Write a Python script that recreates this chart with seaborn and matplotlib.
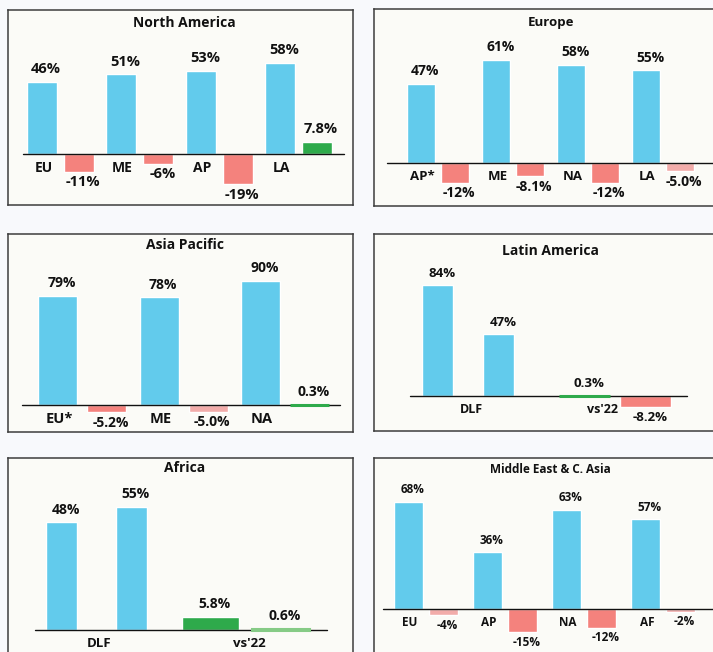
import numpy as np
import pandas as pd
import matplotlib
matplotlib.use("Agg")
import matplotlib.pyplot as plt
import seaborn as sns

# data
na_cats = ["EU", "ME", "AP", "LA"]
na_share = [46, 51, 53, 58]
na_change = [-11, -6, -19, 7.8]
na_sig = [True, True, True, True]

eu_cats = ["AP*", "ME", "NA", "LA"]
eu_share = [47, 61, 58, 55]
eu_change = [-12, -8.1, -12, -5.0]
eu_sig = [True, True, True, False]

ap_cats = ["EU*", "ME", "NA"]
ap_share = [79, 78, 90]
ap_change = [-5.2, -5.0, 0.3]
ap_sig = [True, False, True]

la_groups = ["DLF", "vs'22"]
la_first = [84, 0.3]
la_second = [47, -8.2]
la_sig = [True, True]

af_groups = ["DLF", "vs'22"]
af_first = [48, 5.8]
af_second = [55, 0.6]
af_sig = [True, False]

me_cats = ["EU", "AP", "NA", "AF"]
me_share = [68, 36, 63, 57]
me_change = [-4, -15, -12, -2]
me_sig = [False, True, True, False]

BLUE = "#62CBEC"
RED = "#F4827D"
RED_L = "#F2ACAA"
GREEN = "#2EAA4B"
GREEN_L = "#86CB86"
BG = "#F8F9FC"
PANEL = "#FBFBF7"
INK = "#111111"
W, H = 713, 652

sns.set_theme(style="white")
plt.rcParams["font.family"] = ["Open Sans", "DejaVu Sans"]


def chg_color(v, s):
    if v >= 0:
        return GREEN if s else GREEN_L
    return RED if s else RED_L


def fmt(v):
    return f"{v}%" if isinstance(v, int) else f"{v:.1f}%"


def pair_frame(cats, share, change):
    return pd.DataFrame({
        "cat": cats * 2,
        "series": ["share"] * len(cats) + ["change"] * len(cats),
        "value": share + change,
    })


panels = [
    dict(title="North America", box=(8, 10, 352.7, 205), kind="pair",
         cats=na_cats, a=na_share, b=na_change, sig=na_sig,
         xlim=(-0.662, 3.685), ylim=(-32.2, 91.7), width=0.933, gap=0.19,
         base=(-0.477, 3.575), tdy=12.7, fs=(10, 10.5, 10)),
    dict(title="Europe", box=(374, 9.3, 719, 206), kind="pair",
         cats=eu_cats, a=eu_share, b=eu_change, sig=eu_sig,
         xlim=(-0.853, 3.747), ylim=(-25.7, 91.1), width=0.907, gap=0.176,
         base=(-0.684, 3.8), tdy=13.4, fs=(9.5, 10, 9.5)),
    dict(title="Asia Pacific", box=(8, 234.3, 352.7, 431.7), kind="pair",
         cats=ap_cats, a=ap_share, b=ap_change, sig=ap_sig,
         xlim=(-0.728, 2.664), ylim=(-19.3, 123.6), width=0.965, gap=0.204,
         base=(-0.593, 2.539), tdy=10.7, fs=(10, 10, 10.5)),
    dict(title="Latin America", box=(374, 234.3, 719, 431), kind="group",
         cats=la_groups, a=la_first, b=la_second, sig=la_sig,
         xlim=(-0.644, 1.709), ylim=(-26.3, 122.7), width=0.832, gap=0.17,
         narrow=0.61, base=(-0.4, 1.489), tdy=16.7, fs=(10, 9.5, 9),
         lab_dx=(2, -9)),
    dict(title="Africa", box=(8, 457.7, 352.7, 662), kind="group",
         cats=af_groups, a=af_first, b=af_second, sig=af_sig,
         xlim=(-0.595, 1.721), ylim=(-14.3, 76.9), width=0.94, gap=0.186,
         narrow=0.55, base=(-0.414, 1.546), tdy=10, fs=(10, 10, 9.5),
         lab_dx=(2, 3)),
    dict(title="Middle East & C. Asia", box=(374, 457.7, 719, 662), kind="pair",
         cats=me_cats, a=me_share, b=me_change, sig=me_sig,
         xlim=(-0.657, 3.71), ylim=(-33.9, 96.2), width=0.881, gap=0.167,
         base=(-0.547, 3.8), tdy=11.6, fs=(8.5, 8.5, 8.5)),
]

fig = plt.figure(figsize=(W / 100, H / 100), dpi=100)
fig.patch.set_facecolor(BG)

for p in panels:
    x0, y0, x1, y1 = p["box"]
    ax = fig.add_axes([x0 / W, 1 - y1 / H, (x1 - x0) / W, (y1 - y0) / H])
    ax.set_facecolor(PANEL)
    df = pair_frame(p["cats"], p["a"], p["b"])
    sns.barplot(data=df, x="cat", y="value", hue="series", order=p["cats"],
                hue_order=["share", "change"], palette=[BLUE, RED],
                width=p["width"], gap=p["gap"], errorbar=None, legend=False,
                saturation=1, ax=ax)
    first, second = ax.containers[0], ax.containers[1]
    tfs, vfs, cfs = p["fs"]

    if p["kind"] == "pair":
        for i, (pa, pb) in enumerate(zip(first.patches, second.patches)):
            pa.set_facecolor(BLUE)
            pb.set_facecolor(chg_color(p["b"][i], p["sig"][i]))
            xc = pa.get_x() + pa.get_width() / 2
            ax.annotate(p["cats"][i], (xc, 0), xytext=(1, -5),
                        textcoords="offset points", ha="center", va="top",
                        fontsize=cfs, fontweight="bold", color=INK)
    else:
        for j, patches in enumerate([first.patches, second.patches]):
            for i, pt in enumerate(patches):
                if i == 0:
                    pt.set_facecolor(BLUE)
                    w0 = pt.get_width()
                    pt.set_x(pt.get_x() + w0 * (1 - p["narrow"]) / 2)
                    pt.set_width(w0 * p["narrow"])
                else:
                    vals = p["a"] if j == 0 else p["b"]
                    pt.set_facecolor(chg_color(vals[i], p["sig"][j]))
        for i, c in enumerate(p["cats"]):
            ax.annotate(c, (i, 0), xytext=(p["lab_dx"][i], -5),
                        textcoords="offset points", ha="center", va="top",
                        fontsize=cfs, fontweight="bold", color=INK)

    for vals, cont in [(p["a"], first), (p["b"], second)]:
        for v, pt in zip(vals, cont.patches):
            # tiny bars get a same-coloured edge so they stay visible
            if abs(v) < 1:
                pt.set_edgecolor(pt.get_facecolor())
                pt.set_linewidth(2.2)
                pt.set_zorder(4)
            xc = pt.get_x() + pt.get_width() / 2
            ax.annotate(fmt(v), (xc, v), xytext=(3, 4 if v >= 0 else -2.5),
                        textcoords="offset points", ha="center",
                        va="bottom" if v >= 0 else "top",
                        fontsize=vfs, fontweight="bold", color=INK)

    ax.plot(p["base"], [0, 0], color=INK, lw=1.0, zorder=3)
    ax.set_xlim(*p["xlim"])
    ax.set_ylim(*p["ylim"])
    ax.set_xticks([])
    ax.set_yticks([])
    ax.set_xlabel("")
    ax.set_ylabel("")
    for s in ax.spines.values():
        s.set_visible(True)
        s.set_color("#3d3d3d")
        s.set_linewidth(1.1)
    ax.annotate(p["title"], (0.5, 1), xycoords="axes fraction",
                xytext=(3, -p["tdy"] * 0.72), textcoords="offset points",
                ha="center", va="center", fontsize=tfs, fontweight="bold",
                color=INK)

fig.savefig("out.png", dpi=100, facecolor=BG)
